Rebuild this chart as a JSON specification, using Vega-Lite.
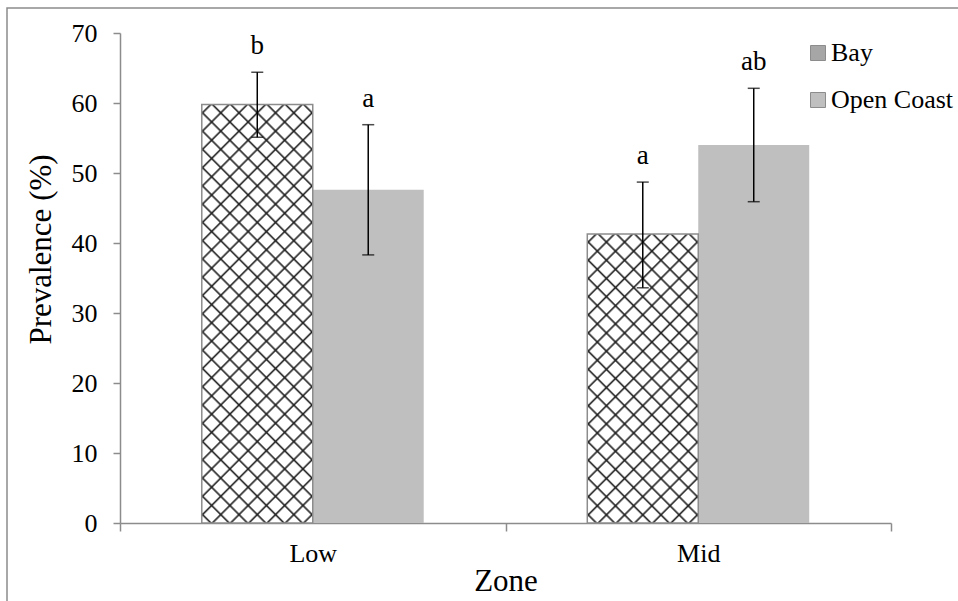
{
  "$schema": "https://vega.github.io/schema/vega-lite/v6.json",
  "width": 960,
  "height": 600,
  "padding": {"left": 7, "top": 8, "right": 0, "bottom": 0},
  "background": "white",
  "config": {
    "view": {"stroke": "#8c8c8c", "strokeWidth": 1.5},
    "font": "Liberation Serif",
    "axis": {"labelColor": "black", "titleColor": "black", "titleFontWeight": "normal", "grid": false, "labelFont": "Liberation Serif", "titleFont": "Liberation Serif"}
  },
  "data": {
    "values": [
      {"zone": "Low", "site": "Bay", "mean": 59.8, "lower": 55.1, "upper": 64.4, "letter": "b"},
      {"zone": "Low", "site": "Open Coast", "mean": 47.6, "lower": 38.3, "upper": 56.9, "letter": "a"},
      {"zone": "Mid", "site": "Bay", "mean": 41.3, "lower": 33.6, "upper": 48.7, "letter": "a"},
      {"zone": "Mid", "site": "Open Coast", "mean": 54.0, "lower": 45.9, "upper": 62.1, "letter": "ab"}
    ]
  },
  "encoding": {
    "x": {
      "field": "zone", "type": "nominal", "title": "Zone",
      "scale": {"range": [113, 884], "paddingInner": 0, "paddingOuter": 0},
      "axis": {"orient": "bottom", "offset": -85, "tickBand": "extent", "tickSize": 8, "labelPadding": 9, "labelAngle": 0, "domainColor": "#8c8c8c", "tickColor": "#8c8c8c", "domainWidth": 1.5, "tickWidth": 1.5, "labelFontSize": 26, "titleFontSize": 31, "titlePadding": 0}
    },
    "xOffset": {"field": "site", "type": "nominal", "scale": {"domain": ["Bay", "Open Coast"], "paddingInner": 0, "paddingOuter": 0.737}}
  },
  "layer": [
    {
      "mark": {"type": "bar"},
      "encoding": {
        "y": {
          "field": "mean", "type": "quantitative", "title": "Prevalence (%)",
          "scale": {"domain": [0, 70], "range": [515, 25], "nice": false},
          "axis": {"orient": "left", "offset": -113, "values": [0, 10, 20, 30, 40, 50, 60, 70], "tickSize": 7, "labelPadding": 16, "domainColor": "#8c8c8c", "tickColor": "#8c8c8c", "domainWidth": 1.5, "tickWidth": 1.5, "labelFontSize": 26, "titleFontSize": 31, "titleX": -63, "titleY": 241, "titleAlign": "center", "titleBaseline": "bottom"}
        },
        "color": {
          "field": "site", "type": "nominal",
          "scale": {"domain": ["Bay", "Open Coast"], "range": ["#a6a6a6", "#bfbfbf"]},
          "legend": {
            "title": null, "orient": "none", "legendX": 798, "legendY": 32,
            "symbolType": "square", "symbolSize": 225, "labelFontSize": 26, "labelFont": "Liberation Serif", "labelColor": "black",
            "rowPadding": 21, "labelOffset": 0, "symbolStrokeWidth": 1, "symbolStrokeColor": "#8c8c8c"
          }
        }
      }
    },
    {
      "transform": [{"filter": "datum.site === 'Bay'"}],
      "mark": {"type": "bar", "fill": "white"},
      "encoding": {"y": {"field": "mean", "type": "quantitative", "title": "Prevalence (%)"}}
    },
    {
      "transform": [{"filter": "datum.site === 'Bay' && datum.zone === 'Low'"}],
      "mark": {"type": "bar", "fill": {"gradient": "linear", "x1": 0, "y1": 0, "x2": 0.3134, "y2": 1.1821, "stops": [
        {"offset": 0.01309, "color": "rgba(0,0,0,0)"}, {"offset": 0.01724, "color": "#262626"}, {"offset": 0.02139, "color": "rgba(0,0,0,0)"},
        {"offset": 0.04757, "color": "rgba(0,0,0,0)"}, {"offset": 0.05172, "color": "#262626"}, {"offset": 0.05587, "color": "rgba(0,0,0,0)"},
        {"offset": 0.08206, "color": "rgba(0,0,0,0)"}, {"offset": 0.08621, "color": "#262626"}, {"offset": 0.09036, "color": "rgba(0,0,0,0)"},
        {"offset": 0.11654, "color": "rgba(0,0,0,0)"}, {"offset": 0.12069, "color": "#262626"}, {"offset": 0.12484, "color": "rgba(0,0,0,0)"},
        {"offset": 0.15102, "color": "rgba(0,0,0,0)"}, {"offset": 0.15517, "color": "#262626"}, {"offset": 0.15932, "color": "rgba(0,0,0,0)"},
        {"offset": 0.18551, "color": "rgba(0,0,0,0)"}, {"offset": 0.18966, "color": "#262626"}, {"offset": 0.19381, "color": "rgba(0,0,0,0)"},
        {"offset": 0.21999, "color": "rgba(0,0,0,0)"}, {"offset": 0.22414, "color": "#262626"}, {"offset": 0.22829, "color": "rgba(0,0,0,0)"},
        {"offset": 0.25447, "color": "rgba(0,0,0,0)"}, {"offset": 0.25862, "color": "#262626"}, {"offset": 0.26277, "color": "rgba(0,0,0,0)"},
        {"offset": 0.28895, "color": "rgba(0,0,0,0)"}, {"offset": 0.29310, "color": "#262626"}, {"offset": 0.29725, "color": "rgba(0,0,0,0)"},
        {"offset": 0.32344, "color": "rgba(0,0,0,0)"}, {"offset": 0.32759, "color": "#262626"}, {"offset": 0.33174, "color": "rgba(0,0,0,0)"},
        {"offset": 0.35792, "color": "rgba(0,0,0,0)"}, {"offset": 0.36207, "color": "#262626"}, {"offset": 0.36622, "color": "rgba(0,0,0,0)"},
        {"offset": 0.39240, "color": "rgba(0,0,0,0)"}, {"offset": 0.39655, "color": "#262626"}, {"offset": 0.40070, "color": "rgba(0,0,0,0)"},
        {"offset": 0.42688, "color": "rgba(0,0,0,0)"}, {"offset": 0.43103, "color": "#262626"}, {"offset": 0.43518, "color": "rgba(0,0,0,0)"},
        {"offset": 0.46137, "color": "rgba(0,0,0,0)"}, {"offset": 0.46552, "color": "#262626"}, {"offset": 0.46967, "color": "rgba(0,0,0,0)"},
        {"offset": 0.49585, "color": "rgba(0,0,0,0)"}, {"offset": 0.50000, "color": "#262626"}, {"offset": 0.50415, "color": "rgba(0,0,0,0)"},
        {"offset": 0.53033, "color": "rgba(0,0,0,0)"}, {"offset": 0.53448, "color": "#262626"}, {"offset": 0.53863, "color": "rgba(0,0,0,0)"},
        {"offset": 0.56482, "color": "rgba(0,0,0,0)"}, {"offset": 0.56897, "color": "#262626"}, {"offset": 0.57312, "color": "rgba(0,0,0,0)"},
        {"offset": 0.59930, "color": "rgba(0,0,0,0)"}, {"offset": 0.60345, "color": "#262626"}, {"offset": 0.60760, "color": "rgba(0,0,0,0)"},
        {"offset": 0.63378, "color": "rgba(0,0,0,0)"}, {"offset": 0.63793, "color": "#262626"}, {"offset": 0.64208, "color": "rgba(0,0,0,0)"},
        {"offset": 0.66826, "color": "rgba(0,0,0,0)"}, {"offset": 0.67241, "color": "#262626"}, {"offset": 0.67656, "color": "rgba(0,0,0,0)"},
        {"offset": 0.70275, "color": "rgba(0,0,0,0)"}, {"offset": 0.70690, "color": "#262626"}, {"offset": 0.71105, "color": "rgba(0,0,0,0)"},
        {"offset": 0.73723, "color": "rgba(0,0,0,0)"}, {"offset": 0.74138, "color": "#262626"}, {"offset": 0.74553, "color": "rgba(0,0,0,0)"},
        {"offset": 0.77171, "color": "rgba(0,0,0,0)"}, {"offset": 0.77586, "color": "#262626"}, {"offset": 0.78001, "color": "rgba(0,0,0,0)"},
        {"offset": 0.80619, "color": "rgba(0,0,0,0)"}, {"offset": 0.81034, "color": "#262626"}, {"offset": 0.81449, "color": "rgba(0,0,0,0)"},
        {"offset": 0.84068, "color": "rgba(0,0,0,0)"}, {"offset": 0.84483, "color": "#262626"}, {"offset": 0.84898, "color": "rgba(0,0,0,0)"},
        {"offset": 0.87516, "color": "rgba(0,0,0,0)"}, {"offset": 0.87931, "color": "#262626"}, {"offset": 0.88346, "color": "rgba(0,0,0,0)"},
        {"offset": 0.90964, "color": "rgba(0,0,0,0)"}, {"offset": 0.91379, "color": "#262626"}, {"offset": 0.91794, "color": "rgba(0,0,0,0)"},
        {"offset": 0.94413, "color": "rgba(0,0,0,0)"}, {"offset": 0.94828, "color": "#262626"}, {"offset": 0.95243, "color": "rgba(0,0,0,0)"},
        {"offset": 0.97861, "color": "rgba(0,0,0,0)"}, {"offset": 0.98276, "color": "#262626"}, {"offset": 0.98691, "color": "rgba(0,0,0,0)"}
      ]}},
      "encoding": {"y": {"field": "mean", "type": "quantitative", "title": "Prevalence (%)"}}
    },
    {
      "transform": [{"filter": "datum.site === 'Bay' && datum.zone === 'Low'"}],
      "mark": {"type": "bar", "fill": {"gradient": "linear", "x1": 0, "y1": 1, "x2": 0.3134, "y2": -0.1821, "stops": [
        {"offset": 0.01309, "color": "rgba(0,0,0,0)"}, {"offset": 0.01724, "color": "#262626"}, {"offset": 0.02139, "color": "rgba(0,0,0,0)"},
        {"offset": 0.04757, "color": "rgba(0,0,0,0)"}, {"offset": 0.05172, "color": "#262626"}, {"offset": 0.05587, "color": "rgba(0,0,0,0)"},
        {"offset": 0.08206, "color": "rgba(0,0,0,0)"}, {"offset": 0.08621, "color": "#262626"}, {"offset": 0.09036, "color": "rgba(0,0,0,0)"},
        {"offset": 0.11654, "color": "rgba(0,0,0,0)"}, {"offset": 0.12069, "color": "#262626"}, {"offset": 0.12484, "color": "rgba(0,0,0,0)"},
        {"offset": 0.15102, "color": "rgba(0,0,0,0)"}, {"offset": 0.15517, "color": "#262626"}, {"offset": 0.15932, "color": "rgba(0,0,0,0)"},
        {"offset": 0.18551, "color": "rgba(0,0,0,0)"}, {"offset": 0.18966, "color": "#262626"}, {"offset": 0.19381, "color": "rgba(0,0,0,0)"},
        {"offset": 0.21999, "color": "rgba(0,0,0,0)"}, {"offset": 0.22414, "color": "#262626"}, {"offset": 0.22829, "color": "rgba(0,0,0,0)"},
        {"offset": 0.25447, "color": "rgba(0,0,0,0)"}, {"offset": 0.25862, "color": "#262626"}, {"offset": 0.26277, "color": "rgba(0,0,0,0)"},
        {"offset": 0.28895, "color": "rgba(0,0,0,0)"}, {"offset": 0.29310, "color": "#262626"}, {"offset": 0.29725, "color": "rgba(0,0,0,0)"},
        {"offset": 0.32344, "color": "rgba(0,0,0,0)"}, {"offset": 0.32759, "color": "#262626"}, {"offset": 0.33174, "color": "rgba(0,0,0,0)"},
        {"offset": 0.35792, "color": "rgba(0,0,0,0)"}, {"offset": 0.36207, "color": "#262626"}, {"offset": 0.36622, "color": "rgba(0,0,0,0)"},
        {"offset": 0.39240, "color": "rgba(0,0,0,0)"}, {"offset": 0.39655, "color": "#262626"}, {"offset": 0.40070, "color": "rgba(0,0,0,0)"},
        {"offset": 0.42688, "color": "rgba(0,0,0,0)"}, {"offset": 0.43103, "color": "#262626"}, {"offset": 0.43518, "color": "rgba(0,0,0,0)"},
        {"offset": 0.46137, "color": "rgba(0,0,0,0)"}, {"offset": 0.46552, "color": "#262626"}, {"offset": 0.46967, "color": "rgba(0,0,0,0)"},
        {"offset": 0.49585, "color": "rgba(0,0,0,0)"}, {"offset": 0.50000, "color": "#262626"}, {"offset": 0.50415, "color": "rgba(0,0,0,0)"},
        {"offset": 0.53033, "color": "rgba(0,0,0,0)"}, {"offset": 0.53448, "color": "#262626"}, {"offset": 0.53863, "color": "rgba(0,0,0,0)"},
        {"offset": 0.56482, "color": "rgba(0,0,0,0)"}, {"offset": 0.56897, "color": "#262626"}, {"offset": 0.57312, "color": "rgba(0,0,0,0)"},
        {"offset": 0.59930, "color": "rgba(0,0,0,0)"}, {"offset": 0.60345, "color": "#262626"}, {"offset": 0.60760, "color": "rgba(0,0,0,0)"},
        {"offset": 0.63378, "color": "rgba(0,0,0,0)"}, {"offset": 0.63793, "color": "#262626"}, {"offset": 0.64208, "color": "rgba(0,0,0,0)"},
        {"offset": 0.66826, "color": "rgba(0,0,0,0)"}, {"offset": 0.67241, "color": "#262626"}, {"offset": 0.67656, "color": "rgba(0,0,0,0)"},
        {"offset": 0.70275, "color": "rgba(0,0,0,0)"}, {"offset": 0.70690, "color": "#262626"}, {"offset": 0.71105, "color": "rgba(0,0,0,0)"},
        {"offset": 0.73723, "color": "rgba(0,0,0,0)"}, {"offset": 0.74138, "color": "#262626"}, {"offset": 0.74553, "color": "rgba(0,0,0,0)"},
        {"offset": 0.77171, "color": "rgba(0,0,0,0)"}, {"offset": 0.77586, "color": "#262626"}, {"offset": 0.78001, "color": "rgba(0,0,0,0)"},
        {"offset": 0.80619, "color": "rgba(0,0,0,0)"}, {"offset": 0.81034, "color": "#262626"}, {"offset": 0.81449, "color": "rgba(0,0,0,0)"},
        {"offset": 0.84068, "color": "rgba(0,0,0,0)"}, {"offset": 0.84483, "color": "#262626"}, {"offset": 0.84898, "color": "rgba(0,0,0,0)"},
        {"offset": 0.87516, "color": "rgba(0,0,0,0)"}, {"offset": 0.87931, "color": "#262626"}, {"offset": 0.88346, "color": "rgba(0,0,0,0)"},
        {"offset": 0.90964, "color": "rgba(0,0,0,0)"}, {"offset": 0.91379, "color": "#262626"}, {"offset": 0.91794, "color": "rgba(0,0,0,0)"},
        {"offset": 0.94413, "color": "rgba(0,0,0,0)"}, {"offset": 0.94828, "color": "#262626"}, {"offset": 0.95243, "color": "rgba(0,0,0,0)"},
        {"offset": 0.97861, "color": "rgba(0,0,0,0)"}, {"offset": 0.98276, "color": "#262626"}, {"offset": 0.98691, "color": "rgba(0,0,0,0)"}
      ]}},
      "encoding": {"y": {"field": "mean", "type": "quantitative", "title": "Prevalence (%)"}}
    },
    {
      "transform": [{"filter": "datum.site === 'Bay' && datum.zone === 'Mid'"}],
      "mark": {"type": "bar", "fill": {"gradient": "linear", "x1": 0, "y1": 0, "x2": 0.4631, "y2": 1.2062, "stops": [
        {"offset": 0.01723, "color": "rgba(0,0,0,0)"}, {"offset": 0.02273, "color": "#262626"}, {"offset": 0.02823, "color": "rgba(0,0,0,0)"},
        {"offset": 0.06268, "color": "rgba(0,0,0,0)"}, {"offset": 0.06818, "color": "#262626"}, {"offset": 0.07368, "color": "rgba(0,0,0,0)"},
        {"offset": 0.10814, "color": "rgba(0,0,0,0)"}, {"offset": 0.11364, "color": "#262626"}, {"offset": 0.11914, "color": "rgba(0,0,0,0)"},
        {"offset": 0.15359, "color": "rgba(0,0,0,0)"}, {"offset": 0.15909, "color": "#262626"}, {"offset": 0.16459, "color": "rgba(0,0,0,0)"},
        {"offset": 0.19905, "color": "rgba(0,0,0,0)"}, {"offset": 0.20455, "color": "#262626"}, {"offset": 0.21005, "color": "rgba(0,0,0,0)"},
        {"offset": 0.24450, "color": "rgba(0,0,0,0)"}, {"offset": 0.25000, "color": "#262626"}, {"offset": 0.25550, "color": "rgba(0,0,0,0)"},
        {"offset": 0.28995, "color": "rgba(0,0,0,0)"}, {"offset": 0.29545, "color": "#262626"}, {"offset": 0.30095, "color": "rgba(0,0,0,0)"},
        {"offset": 0.33541, "color": "rgba(0,0,0,0)"}, {"offset": 0.34091, "color": "#262626"}, {"offset": 0.34641, "color": "rgba(0,0,0,0)"},
        {"offset": 0.38086, "color": "rgba(0,0,0,0)"}, {"offset": 0.38636, "color": "#262626"}, {"offset": 0.39186, "color": "rgba(0,0,0,0)"},
        {"offset": 0.42632, "color": "rgba(0,0,0,0)"}, {"offset": 0.43182, "color": "#262626"}, {"offset": 0.43732, "color": "rgba(0,0,0,0)"},
        {"offset": 0.47177, "color": "rgba(0,0,0,0)"}, {"offset": 0.47727, "color": "#262626"}, {"offset": 0.48277, "color": "rgba(0,0,0,0)"},
        {"offset": 0.51723, "color": "rgba(0,0,0,0)"}, {"offset": 0.52273, "color": "#262626"}, {"offset": 0.52823, "color": "rgba(0,0,0,0)"},
        {"offset": 0.56268, "color": "rgba(0,0,0,0)"}, {"offset": 0.56818, "color": "#262626"}, {"offset": 0.57368, "color": "rgba(0,0,0,0)"},
        {"offset": 0.60814, "color": "rgba(0,0,0,0)"}, {"offset": 0.61364, "color": "#262626"}, {"offset": 0.61914, "color": "rgba(0,0,0,0)"},
        {"offset": 0.65359, "color": "rgba(0,0,0,0)"}, {"offset": 0.65909, "color": "#262626"}, {"offset": 0.66459, "color": "rgba(0,0,0,0)"},
        {"offset": 0.69905, "color": "rgba(0,0,0,0)"}, {"offset": 0.70455, "color": "#262626"}, {"offset": 0.71005, "color": "rgba(0,0,0,0)"},
        {"offset": 0.74450, "color": "rgba(0,0,0,0)"}, {"offset": 0.75000, "color": "#262626"}, {"offset": 0.75550, "color": "rgba(0,0,0,0)"},
        {"offset": 0.78995, "color": "rgba(0,0,0,0)"}, {"offset": 0.79545, "color": "#262626"}, {"offset": 0.80095, "color": "rgba(0,0,0,0)"},
        {"offset": 0.83541, "color": "rgba(0,0,0,0)"}, {"offset": 0.84091, "color": "#262626"}, {"offset": 0.84641, "color": "rgba(0,0,0,0)"},
        {"offset": 0.88086, "color": "rgba(0,0,0,0)"}, {"offset": 0.88636, "color": "#262626"}, {"offset": 0.89186, "color": "rgba(0,0,0,0)"},
        {"offset": 0.92632, "color": "rgba(0,0,0,0)"}, {"offset": 0.93182, "color": "#262626"}, {"offset": 0.93732, "color": "rgba(0,0,0,0)"},
        {"offset": 0.97177, "color": "rgba(0,0,0,0)"}, {"offset": 0.97727, "color": "#262626"}, {"offset": 0.98277, "color": "rgba(0,0,0,0)"}
      ]}},
      "encoding": {"y": {"field": "mean", "type": "quantitative", "title": "Prevalence (%)"}}
    },
    {
      "transform": [{"filter": "datum.site === 'Bay' && datum.zone === 'Mid'"}],
      "mark": {"type": "bar", "fill": {"gradient": "linear", "x1": 0, "y1": 1, "x2": 0.4631, "y2": -0.2062, "stops": [
        {"offset": 0.01723, "color": "rgba(0,0,0,0)"}, {"offset": 0.02273, "color": "#262626"}, {"offset": 0.02823, "color": "rgba(0,0,0,0)"},
        {"offset": 0.06268, "color": "rgba(0,0,0,0)"}, {"offset": 0.06818, "color": "#262626"}, {"offset": 0.07368, "color": "rgba(0,0,0,0)"},
        {"offset": 0.10814, "color": "rgba(0,0,0,0)"}, {"offset": 0.11364, "color": "#262626"}, {"offset": 0.11914, "color": "rgba(0,0,0,0)"},
        {"offset": 0.15359, "color": "rgba(0,0,0,0)"}, {"offset": 0.15909, "color": "#262626"}, {"offset": 0.16459, "color": "rgba(0,0,0,0)"},
        {"offset": 0.19905, "color": "rgba(0,0,0,0)"}, {"offset": 0.20455, "color": "#262626"}, {"offset": 0.21005, "color": "rgba(0,0,0,0)"},
        {"offset": 0.24450, "color": "rgba(0,0,0,0)"}, {"offset": 0.25000, "color": "#262626"}, {"offset": 0.25550, "color": "rgba(0,0,0,0)"},
        {"offset": 0.28995, "color": "rgba(0,0,0,0)"}, {"offset": 0.29545, "color": "#262626"}, {"offset": 0.30095, "color": "rgba(0,0,0,0)"},
        {"offset": 0.33541, "color": "rgba(0,0,0,0)"}, {"offset": 0.34091, "color": "#262626"}, {"offset": 0.34641, "color": "rgba(0,0,0,0)"},
        {"offset": 0.38086, "color": "rgba(0,0,0,0)"}, {"offset": 0.38636, "color": "#262626"}, {"offset": 0.39186, "color": "rgba(0,0,0,0)"},
        {"offset": 0.42632, "color": "rgba(0,0,0,0)"}, {"offset": 0.43182, "color": "#262626"}, {"offset": 0.43732, "color": "rgba(0,0,0,0)"},
        {"offset": 0.47177, "color": "rgba(0,0,0,0)"}, {"offset": 0.47727, "color": "#262626"}, {"offset": 0.48277, "color": "rgba(0,0,0,0)"},
        {"offset": 0.51723, "color": "rgba(0,0,0,0)"}, {"offset": 0.52273, "color": "#262626"}, {"offset": 0.52823, "color": "rgba(0,0,0,0)"},
        {"offset": 0.56268, "color": "rgba(0,0,0,0)"}, {"offset": 0.56818, "color": "#262626"}, {"offset": 0.57368, "color": "rgba(0,0,0,0)"},
        {"offset": 0.60814, "color": "rgba(0,0,0,0)"}, {"offset": 0.61364, "color": "#262626"}, {"offset": 0.61914, "color": "rgba(0,0,0,0)"},
        {"offset": 0.65359, "color": "rgba(0,0,0,0)"}, {"offset": 0.65909, "color": "#262626"}, {"offset": 0.66459, "color": "rgba(0,0,0,0)"},
        {"offset": 0.69905, "color": "rgba(0,0,0,0)"}, {"offset": 0.70455, "color": "#262626"}, {"offset": 0.71005, "color": "rgba(0,0,0,0)"},
        {"offset": 0.74450, "color": "rgba(0,0,0,0)"}, {"offset": 0.75000, "color": "#262626"}, {"offset": 0.75550, "color": "rgba(0,0,0,0)"},
        {"offset": 0.78995, "color": "rgba(0,0,0,0)"}, {"offset": 0.79545, "color": "#262626"}, {"offset": 0.80095, "color": "rgba(0,0,0,0)"},
        {"offset": 0.83541, "color": "rgba(0,0,0,0)"}, {"offset": 0.84091, "color": "#262626"}, {"offset": 0.84641, "color": "rgba(0,0,0,0)"},
        {"offset": 0.88086, "color": "rgba(0,0,0,0)"}, {"offset": 0.88636, "color": "#262626"}, {"offset": 0.89186, "color": "rgba(0,0,0,0)"},
        {"offset": 0.92632, "color": "rgba(0,0,0,0)"}, {"offset": 0.93182, "color": "#262626"}, {"offset": 0.93732, "color": "rgba(0,0,0,0)"},
        {"offset": 0.97177, "color": "rgba(0,0,0,0)"}, {"offset": 0.97727, "color": "#262626"}, {"offset": 0.98277, "color": "rgba(0,0,0,0)"}
      ]}},
      "encoding": {"y": {"field": "mean", "type": "quantitative", "title": "Prevalence (%)"}}
    },
    {
      "transform": [{"filter": "datum.site === 'Bay'"}],
      "mark": {"type": "bar", "fill": "white", "fillOpacity": 0, "stroke": "#8c8c8c", "strokeWidth": 1.5},
      "encoding": {"y": {"field": "mean", "type": "quantitative", "title": "Prevalence (%)"}}
    },
    {
      "mark": {"type": "rule", "color": "black", "strokeWidth": 1.5},
      "encoding": {
        "y": {"field": "lower", "type": "quantitative", "title": "Prevalence (%)"},
        "y2": {"field": "upper"}
      }
    },
    {
      "mark": {"type": "tick", "orient": "horizontal", "size": 12, "thickness": 1.5, "color": "black"},
      "encoding": {"y": {"field": "upper", "type": "quantitative", "title": "Prevalence (%)"}}
    },
    {
      "mark": {"type": "tick", "orient": "horizontal", "size": 12, "thickness": 1.5, "color": "black"},
      "encoding": {"y": {"field": "lower", "type": "quantitative", "title": "Prevalence (%)"}}
    },
    {
      "mark": {"type": "text", "fontSize": 27, "dy": -26, "baseline": "middle", "font": "Liberation Serif", "color": "black"},
      "encoding": {
        "y": {"field": "upper", "type": "quantitative", "title": "Prevalence (%)"},
        "text": {"field": "letter"}
      }
    }
  ]
}
